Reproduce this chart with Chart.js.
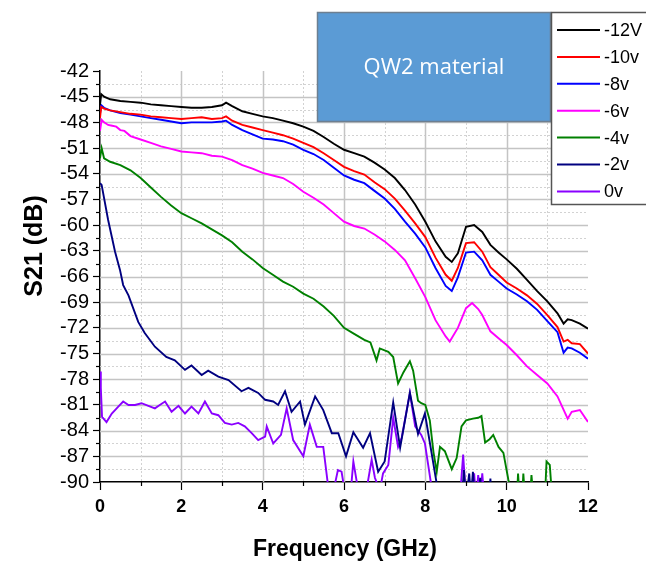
<!DOCTYPE html>
<html>
<head>
<meta charset="utf-8">
<script src="https://cdn.jsdelivr.net/npm/chart.js@4"></script>
<style>
  html, body { margin: 0; padding: 0; background: #fff; }
  canvas { display: block; }
</style>
</head>
<body>
<canvas id="c" width="646" height="566"></canvas>
<script>
// Frequency grid (GHz) shared by the three highest-bias traces
const freqUpper = [0, 0.03, 0.1, 0.25, 0.5, 0.75, 1, 1.25, 1.5, 1.75, 2, 2.25, 2.5, 2.75, 3, 3.1, 3.25, 3.5, 3.75, 4, 4.25, 4.5, 4.75, 5, 5.25, 5.5, 5.75, 6, 6.25, 6.5, 6.75, 7, 7.25, 7.5, 7.75, 8, 8.25, 8.5, 8.65, 8.8, 9, 9.2, 9.4, 9.6, 9.8, 10, 10.25, 10.5, 10.75, 11, 11.25, 11.4, 11.5, 11.6, 11.8, 12];

// S21 (dB) per bias voltage
const s21m12 = [-46.0, -44.7, -45.0, -45.3, -45.5, -45.6, -45.7, -45.9, -46.0, -46.1, -46.2, -46.3, -46.3, -46.2, -46.0, -45.7, -46.1, -46.7, -47.0, -47.3, -47.5, -47.8, -48.1, -48.5, -49.0, -49.7, -50.5, -51.2, -51.6, -52.0, -52.7, -53.5, -54.5, -55.9, -57.6, -59.6, -61.9, -63.7, -64.3, -63.3, -60.2, -60.0, -60.8, -62.3, -63.2, -64.0, -65.1, -66.4, -67.7, -68.9, -70.3, -71.5, -71.0, -71.1, -71.5, -72.1];
const s21m10 = [-47.5, -46.2, -46.4, -46.6, -46.8, -47.0, -47.1, -47.3, -47.4, -47.5, -47.6, -47.5, -47.4, -47.6, -47.5, -47.3, -47.8, -48.3, -48.6, -48.9, -49.2, -49.5, -49.9, -50.4, -50.9, -51.6, -52.4, -53.2, -53.7, -54.1, -55.0, -55.8, -56.9, -58.3, -59.8, -61.4, -63.8, -65.8, -66.5, -65.0, -62.1, -62.0, -63.1, -64.9, -65.8, -66.7, -67.4, -68.2, -69.2, -70.5, -71.9, -73.6, -73.4, -73.8, -73.9, -75.0];
const s21m8 = [-47.0, -46.0, -46.3, -46.6, -46.9, -47.1, -47.3, -47.5, -47.7, -47.9, -48.1, -48.0, -48.0, -48.0, -47.9, -47.8, -48.3, -48.9, -49.4, -49.9, -50.0, -50.2, -50.6, -51.2, -51.7, -52.4, -53.3, -54.2, -54.7, -55.1, -56.0, -56.9, -58.1, -59.6, -61.0, -62.6, -65.0, -67.1, -67.7, -66.1, -63.2, -63.1, -64.1, -65.8, -66.6, -67.4, -68.1, -68.9, -69.9, -71.2, -72.5, -74.9, -74.3, -74.4, -74.9, -75.6];

const freqM6 = [0, 0.04, 0.1, 0.2, 0.3, 0.4, 0.5, 0.6, 0.75, 1, 1.25, 1.5, 1.75, 2, 2.25, 2.5, 2.75, 3, 3.25, 3.5, 3.75, 4, 4.25, 4.5, 4.75, 5, 5.25, 5.5, 5.75, 6, 6.25, 6.5, 6.75, 7, 7.25, 7.5, 7.75, 8, 8.25, 8.5, 8.6, 8.8, 9, 9.15, 9.3, 9.4, 9.6, 9.8, 10, 10.25, 10.5, 10.75, 11, 11.25, 11.5, 11.6, 11.8, 12];
const s21m6 = [-49.0, -47.7, -48.0, -48.3, -48.4, -48.5, -48.9, -49.0, -49.6, -50.0, -50.4, -50.8, -51.1, -51.4, -51.5, -51.6, -51.9, -52.0, -52.4, -53.0, -53.4, -53.9, -54.2, -54.5, -55.2, -56.1, -56.8, -57.6, -58.6, -59.6, -60.1, -60.4, -61.1, -61.9, -62.9, -64.1, -66.2, -68.4, -71.1, -73.0, -73.6, -72.0, -69.7, -69.1, -69.8, -70.5, -72.4, -73.2, -74.0, -75.2, -76.5, -77.5, -78.5, -80.0, -82.6, -81.8, -81.6, -83.0];

const freqM4 = [0, 0.04, 0.1, 0.25, 0.5, 0.75, 1, 1.25, 1.5, 1.75, 2, 2.25, 2.5, 2.75, 3, 3.25, 3.5, 3.75, 4, 4.25, 4.5, 4.75, 5, 5.25, 5.5, 5.75, 6, 6.25, 6.5, 6.65, 6.8, 6.88, 7.09, 7.21, 7.33, 7.46, 7.62, 7.7, 7.82, 7.9, 8.0, 8.11, 8.2, 8.28, 8.36, 8.48, 8.65, 8.77, 8.89, 9.0, 9.17, 9.3, 9.38, 9.47, 9.58, 9.67, 9.8, 9.92, 10.04, 10.15, 10.25, 10.28, 10.32, 10.38, 10.41, 10.45, 10.57, 10.61, 10.66, 10.94, 10.98, 11.06, 11.12];
const s21m4 = [-52.2, -51.0, -52.2, -52.6, -53.0, -53.6, -54.5, -55.6, -56.7, -57.7, -58.6, -59.2, -59.8, -60.5, -61.2, -62.0, -63.1, -64.0, -65.0, -65.8, -66.6, -67.2, -68.0, -68.6, -69.5, -70.6, -72.0, -72.7, -73.4, -73.7, -75.8, -74.4, -74.8, -75.4, -78.5, -77.2, -75.9, -77.0, -80.5, -80.8, -81.0, -82.8, -86.5, -88.8, -85.9, -86.4, -88.5, -87.2, -83.5, -82.8, -82.6, -82.5, -82.3, -85.4, -85.0, -84.5, -85.9, -86.6, -89.7, -92, -92, -89.0, -92, -92, -89.0, -92, -92, -89.2, -92, -92, -87.6, -88.0, -92];

const freqM2 = [0, 0.04, 0.2, 0.37, 0.49, 0.57, 0.7, 0.94, 1.1, 1.35, 1.63, 1.84, 2.09, 2.25, 2.5, 2.66, 2.91, 3.16, 3.48, 3.65, 3.89, 4.06, 4.26, 4.38, 4.55, 4.71, 4.92, 5.04, 5.29, 5.49, 5.7, 5.86, 6.05, 6.23, 6.47, 6.64, 6.84, 7.0, 7.21, 7.38, 7.62, 7.82, 7.99, 8.15, 8.28, 8.33, 8.9, 8.95, 9.0, 9.08, 9.12, 9.17, 9.22, 9.3, 9.35, 9.4, 9.57, 9.6, 9.63];
const s21m2 = [-55.1, -55.3, -59.4, -63.1, -65.2, -67.0, -68.2, -71.3, -72.6, -74.2, -75.4, -75.8, -76.9, -76.4, -77.5, -77.0, -77.7, -78.1, -79.4, -79.0, -79.6, -80.4, -80.6, -81.0, -79.4, -81.8, -80.6, -83.3, -80.0, -81.6, -84.3, -84.3, -87.0, -84.2, -86.0, -84.3, -88.8, -87.6, -80.7, -86.0, -79.6, -84.4, -82.0, -86.5, -90.2, -92, -92, -88.6, -92, -89.0, -92, -88.8, -92, -92, -89.5, -92, -92, -89.6, -92];

const freq0 = [0, 0.02, 0.05, 0.16, 0.29, 0.45, 0.57, 0.7, 0.86, 1.02, 1.19, 1.35, 1.47, 1.6, 1.76, 1.93, 2.09, 2.25, 2.42, 2.58, 2.75, 2.91, 3.07, 3.24, 3.4, 3.56, 3.73, 3.89, 4.06, 4.1, 4.26, 4.45, 4.59, 4.75, 5.0, 5.16, 5.33, 5.49, 5.61, 5.7, 5.85, 5.94, 6.05, 6.15, 6.23, 6.35, 6.55, 6.68, 6.76, 6.88, 6.96, 7.09, 7.21, 7.33, 7.42, 7.62, 7.75, 7.9, 7.99, 8.07, 8.15, 8.85, 8.93, 9.0, 9.15, 9.2, 9.25, 9.3, 9.35, 9.4, 9.45];
const s21v0 = [-77.1, -79.0, -82.4, -83.0, -82.0, -81.2, -80.6, -81.0, -81.0, -80.8, -81.1, -81.4, -81.0, -80.6, -81.8, -81.1, -82.0, -81.2, -82.0, -80.6, -82.0, -82.2, -83.1, -83.3, -83.1, -83.5, -84.3, -85.1, -84.7, -83.5, -85.5, -84.5, -81.4, -85.1, -87.0, -83.3, -85.9, -85.9, -90.5, -92, -88.6, -88.8, -92, -92, -87.6, -91, -91, -87.4, -89.5, -91, -89.0, -88.0, -82.5, -85.9, -84.8, -79.6, -83.5, -84.5, -85.5, -88.0, -90.5, -92, -86.8, -92, -92, -89.0, -92, -89.2, -92, -89.0, -92];

const seriesLabels = ['-12V', '-10v', '-8v', '-6v', '-4v', '-2v', '0v'];
const seriesColors = ['#000000', '#ff0000', '#0000ff', '#ff00ff', '#008000', '#000080', '#8a00ff'];
const seriesFreq = [freqUpper, freqUpper, freqUpper, freqM6, freqM4, freqM2, freq0];
const seriesS21 = [s21m12, s21m10, s21m8, s21m6, s21m4, s21m2, s21v0];

const xTicks = [0, 2, 4, 6, 8, 10, 12];
const yTicks = [-90, -87, -84, -81, -78, -75, -72, -69, -66, -63, -60, -57, -54, -51, -48, -45, -42];

const FONT = '"Liberation Sans", Arial, sans-serif';

const datasets = seriesLabels.map((label, i) => ({
  label,
  data: seriesFreq[i].map((f, k) => ({ x: f, y: seriesS21[i][k] })),
  borderColor: seriesColors[i],
  backgroundColor: seriesColors[i],
  borderWidth: 1.9,
  pointRadius: 0,
  tension: 0,
  fill: false
}));

// Solid grid at labelled ticks, dotted grid halfway between them, plus minor tick marks
const gridPlugin = {
  id: 'gridLines',
  beforeDatasetsDraw(chart) {
    const { ctx, chartArea: a, scales: { x, y } } = chart;
    ctx.save();
    for (let i = 0; i < yTicks.length - 1; i++) {
      const major = yTicks[i];
      const minor = (yTicks[i] + yTicks[i + 1]) / 2;
      if (i > 0) {
        const py = Math.round(y.getPixelForValue(major)) + 0.5;
        ctx.strokeStyle = '#c4c4c4'; ctx.lineWidth = 1.5; ctx.setLineDash([]);
        ctx.beginPath(); ctx.moveTo(a.left, py); ctx.lineTo(a.right, py); ctx.stroke();
      }
      const pm = Math.round(y.getPixelForValue(minor)) + 0.5;
      ctx.strokeStyle = '#d2d2d2'; ctx.lineWidth = 1; ctx.setLineDash([2, 2]);
      ctx.beginPath(); ctx.moveTo(a.left, pm); ctx.lineTo(a.right, pm); ctx.stroke();
    }
    for (let i = 0; i < xTicks.length - 1; i++) {
      const major = xTicks[i];
      const minor = (xTicks[i] + xTicks[i + 1]) / 2;
      if (i > 0) {
        const px = Math.round(x.getPixelForValue(major)) + 0.5;
        ctx.strokeStyle = '#c4c4c4'; ctx.lineWidth = 1.5; ctx.setLineDash([]);
        ctx.beginPath(); ctx.moveTo(px, a.top); ctx.lineTo(px, a.bottom); ctx.stroke();
      }
      const pm = Math.round(x.getPixelForValue(minor)) + 0.5;
      ctx.strokeStyle = '#d2d2d2'; ctx.lineWidth = 1; ctx.setLineDash([2, 2]);
      ctx.beginPath(); ctx.moveTo(pm, a.top); ctx.lineTo(pm, a.bottom); ctx.stroke();
    }
    ctx.setLineDash([]);
    ctx.strokeStyle = '#000'; ctx.lineWidth = 1.2;
    for (let i = 0; i < yTicks.length - 1; i++) {
      const pm = Math.round(y.getPixelForValue((yTicks[i] + yTicks[i + 1]) / 2)) + 0.5;
      ctx.beginPath(); ctx.moveTo(a.left - 4, pm); ctx.lineTo(a.left, pm); ctx.stroke();
    }
    for (let i = 0; i < xTicks.length - 1; i++) {
      const pm = Math.round(x.getPixelForValue((xTicks[i] + xTicks[i + 1]) / 2)) + 0.5;
      ctx.beginPath(); ctx.moveTo(pm, a.bottom); ctx.lineTo(pm, a.bottom + 4); ctx.stroke();
    }
    ctx.restore();
  }
};

// Axis titles, the material tag and the bias legend
const overlayPlugin = {
  id: 'overlay',
  afterDraw(chart) {
    const { ctx } = chart;
    ctx.save();
    ctx.fillStyle = '#000';
    ctx.textAlign = 'center';
    ctx.textBaseline = 'middle';
    ctx.font = 'bold 23px ' + FONT;
    ctx.fillText('Frequency (GHz)', 345, 550);
    ctx.save();
    ctx.translate(35, 246);
    ctx.rotate(-Math.PI / 2);
    ctx.font = 'bold 25px ' + FONT;
    ctx.fillText('S21 (dB)', 0, 0);
    ctx.restore();

    // material tag
    ctx.fillStyle = '#5b9bd5';
    ctx.fillRect(317, 12, 234, 110);
    ctx.strokeStyle = '#6d7f91';
    ctx.lineWidth = 1.5;
    ctx.strokeRect(317.5, 12.5, 233, 109);
    ctx.fillStyle = '#ffffff';
    ctx.font = '22px "Open Sans", sans-serif';
    ctx.fillText('QW2 material', 434, 68);

    // legend
    ctx.fillStyle = '#ffffff';
    ctx.fillRect(551, 12, 100, 193);
    ctx.strokeStyle = '#555';
    ctx.lineWidth = 1.5;
    ctx.strokeRect(551.5, 12.5, 110, 192);
    ctx.font = '18px ' + FONT;
    ctx.textAlign = 'left';
    chart.data.datasets.forEach((ds, i) => {
      const yy = 30 + i * 26.9;
      ctx.strokeStyle = ds.borderColor;
      ctx.lineWidth = 2;
      ctx.beginPath(); ctx.moveTo(557, yy); ctx.lineTo(600, yy); ctx.stroke();
      ctx.fillStyle = '#000';
      ctx.fillText(ds.label, 604, yy + 1);
    });
    ctx.restore();
  }
};

new Chart(document.getElementById('c'), {
  type: 'line',
  data: { datasets },
  options: {
    responsive: false,
    animation: false,
    events: [],
    layout: { padding: { left: 0, right: 58, top: 71, bottom: 0 } },
    plugins: { legend: { display: false }, tooltip: { enabled: false } },
    scales: {
      x: {
        type: 'linear',
        min: xTicks[0],
        max: xTicks[xTicks.length - 1],
        afterBuildTicks(scale) { scale.ticks = xTicks.map(v => ({ value: v })); },
        ticks: { color: '#000', font: { family: FONT, size: 18, weight: 'bold' }, padding: 6, maxRotation: 0, autoSkip: false },
        grid: { drawOnChartArea: false, tickLength: 8, tickColor: '#000', tickWidth: 1.2 },
        border: { color: '#000', width: 1.5 },
        afterFit(scale) { scale.height = 84; }
      },
      y: {
        type: 'linear',
        min: yTicks[0],
        max: yTicks[yTicks.length - 1],
        afterBuildTicks(scale) { scale.ticks = yTicks.map(v => ({ value: v })); },
        ticks: { color: '#000', font: { family: FONT, size: 20 }, padding: 4, autoSkip: false },
        grid: { drawOnChartArea: false, tickLength: 7, tickColor: '#000', tickWidth: 1.2 },
        border: { color: '#000', width: 1.5 },
        afterFit(scale) { scale.width = 100; }
      }
    }
  },
  plugins: [gridPlugin, overlayPlugin]
});
</script>
</body>
</html>
